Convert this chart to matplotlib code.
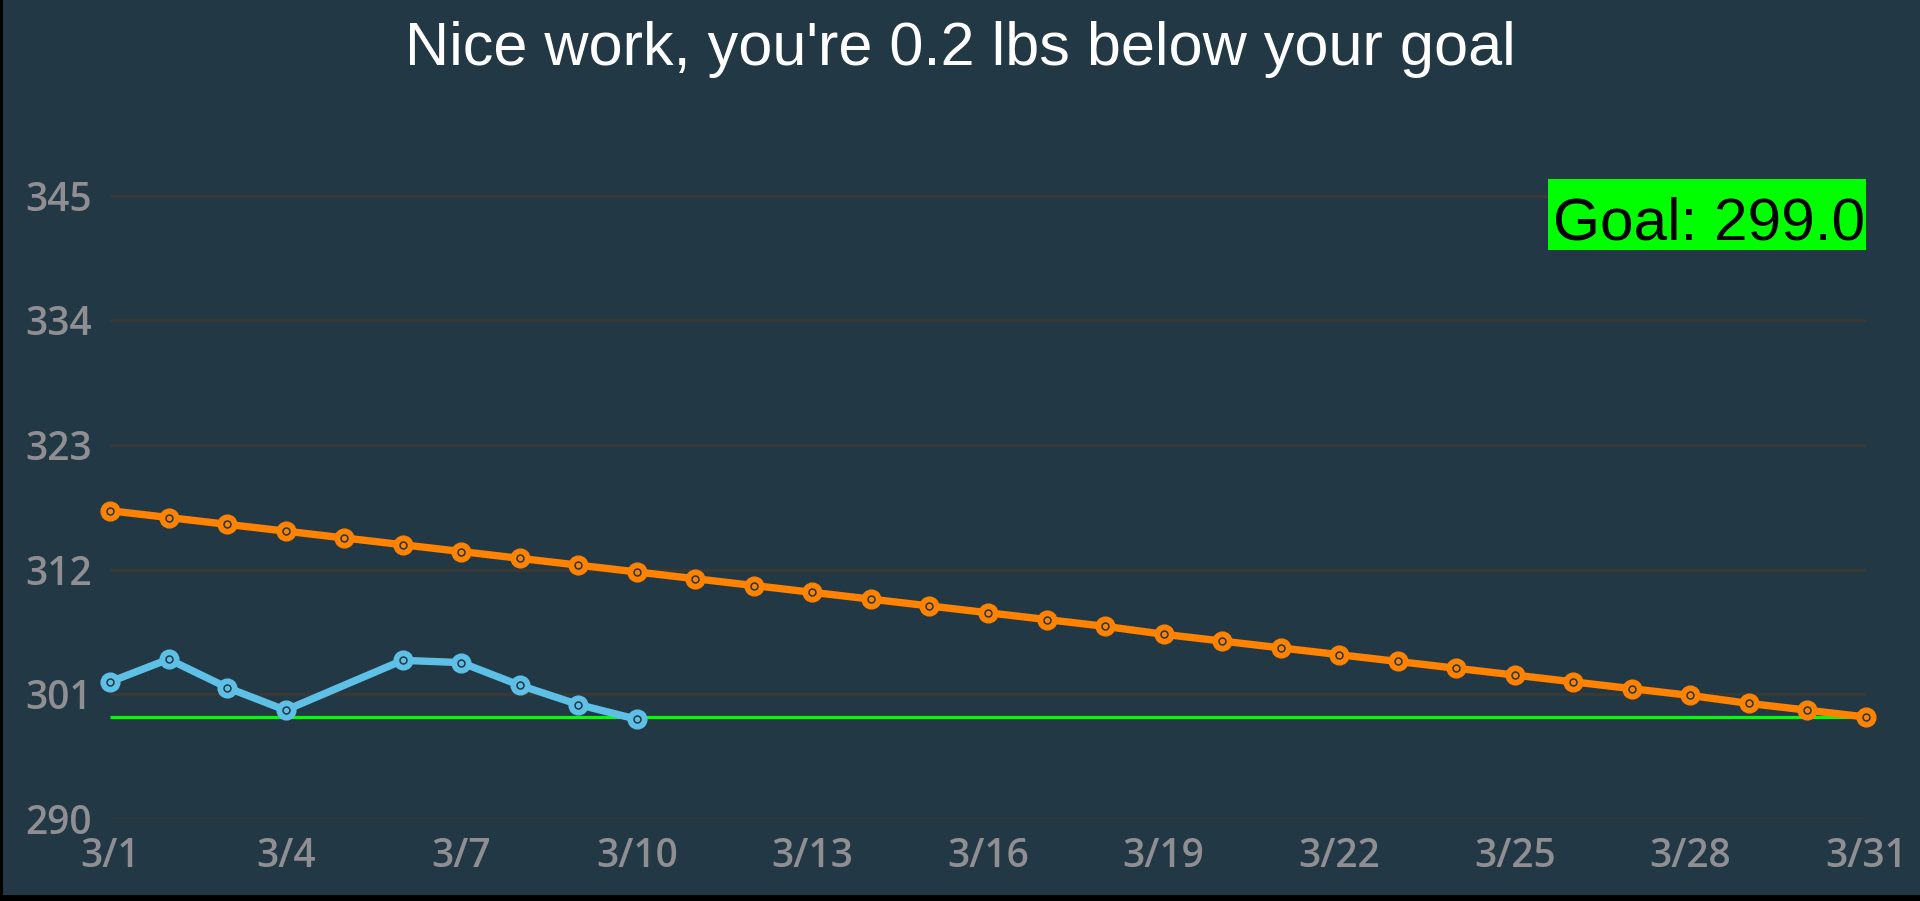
import matplotlib
matplotlib.use('Agg')
import matplotlib.pyplot as plt
from matplotlib.patches import Rectangle

# days of March
days = [1, 2, 3, 4, 5, 6, 7, 8, 9, 10, 11, 12, 13, 14, 15, 16,
        17, 18, 19, 20, 21, 22, 23, 24, 25, 26, 27, 28, 29, 30, 31]
# target weight path
target = [317.2, 316.6, 316.0, 315.4, 314.8, 314.2, 313.6, 313.0, 312.4, 311.8,
          311.2, 310.6, 310.0, 309.4, 308.8, 308.2, 307.6, 307.0, 306.3, 305.7,
          305.1, 304.5, 303.9, 303.3, 302.7, 302.1, 301.5, 300.9, 300.2, 299.6, 299.0]
# logged weights (no entry on 3/5)
logged_days = [1, 2, 3, 4, 6, 7, 8, 9, 10]
logged = [302.1, 304.1, 301.6, 299.6, 304.0, 303.8, 301.8, 300.1, 298.8]

goal = 299.0
yticks = [290, 301, 312, 323, 334, 345]
xticks = [1, 4, 7, 10, 13, 16, 19, 22, 25, 28, 31]
xlabels = ['3/1', '3/4', '3/7', '3/10', '3/13', '3/16', '3/19', '3/22', '3/25', '3/28', '3/31']
title = "Nice work, you're 0.2 lbs below your goal"

bg = '#223845'
orange = '#ff8200'
blue = '#5ec0e6'
lime = '#00ff00'
grey = '#8f8f93'

plt.rcParams['font.family'] = ['Liberation Sans', 'DejaVu Sans']

fig = plt.figure(figsize=(19.2, 9.01), dpi=100, facecolor=bg)
ax = fig.add_axes([110/1920, 1 - 819/901, 1756/1920, 680/901])
ax.set_facecolor(bg)

ax.hlines(goal, days[0], days[-1], color=lime, lw=2.3, zorder=2)

for xs, ys, c in [(days, target, orange), (logged_days, logged, blue)]:
    ax.plot(xs, ys, color=c, lw=5.3, marker='o', ms=13.5, mfc=c, mec=c,
            zorder=3, clip_on=False, solid_capstyle='round')
    ax.plot(xs, ys, ls='none', marker='o', ms=5, mfc=c, mec=bg, mew=1.1,
            zorder=4, clip_on=False)

ax.set_xlim(days[0], days[-1])
ax.set_ylim(290, 350)
ax.set_yticks(yticks)
ax.set_xticks(xticks)
ax.set_xticklabels(xlabels)
ax.grid(axis='y', color='#3b3934', lw=2, zorder=1)
ax.tick_params(length=0, labelsize=28, labelcolor=grey)
ax.tick_params(axis='y', pad=13)
ax.tick_params(axis='x', pad=13)
for lab in ax.get_xticklabels() + ax.get_yticklabels():
    lab.set_family(['Open Sans', 'DejaVu Sans'])
    lab.set_weight('semibold')
for s in ax.spines.values():
    s.set_visible(False)

# goal label box
ax.add_patch(Rectangle((0.8189, 0.8368), 0.1811, 0.1044, transform=ax.transAxes,
                       fc=lime, ec='none', clip_on=False, zorder=5))
ax.text(0.9105, 0.8529, 'Goal: %.1f' % goal, transform=ax.transAxes,
        ha='center', va='baseline', fontsize=43.5, color='black', zorder=6)

fig.text(0.5, 1 - 49/901, title, ha='center', va='center', color='white', fontsize=44)

# black edges of the screenshot
fig.patches.append(Rectangle((0, 0), 1, 6/901, transform=fig.transFigure, fc='black', ec='none'))
fig.patches.append(Rectangle((0, 0), 3/1920, 1, transform=fig.transFigure, fc='black', ec='none'))

fig.savefig('out.png', dpi=100, facecolor=bg)
